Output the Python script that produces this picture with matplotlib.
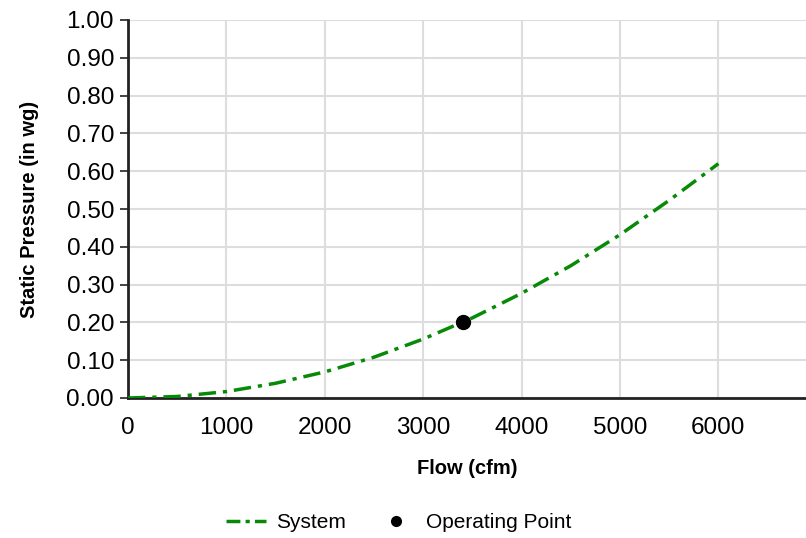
import matplotlib
matplotlib.use("Agg")
import matplotlib.pyplot as plt
from matplotlib.lines import Line2D

plt.rcParams['font.family'] = ['Liberation Sans', 'DejaVu Sans']

# system curve
flow = [0, 500, 1000, 1500, 2000, 2500, 3000, 3500, 4000, 4500, 5000, 5500, 6000]
pressure = [0.0, 0.004, 0.017, 0.039, 0.069, 0.108, 0.156, 0.212, 0.277, 0.350, 0.432, 0.523, 0.620]

op_flow = [3400]
op_pressure = [0.20]

xticks = [0, 1000, 2000, 3000, 4000, 5000, 6000]
yticks = [0.0, 0.1, 0.2, 0.3, 0.4, 0.5, 0.6, 0.7, 0.8, 0.9, 1.0]

fig = plt.figure(figsize=(8.06, 5.38), dpi=100)
ax = fig.add_axes([128/806, 1 - 398/538, 678/806, 378/538])

green = '#078a07'
dash = (0, (5, 2, 1.2, 2))
ax.plot(flow, pressure, color=green, lw=2.5, linestyle=dash, zorder=3)
ax.plot(op_flow, op_pressure, 'o', color='black', ms=10, zorder=4)

ax.set_xlim(0, 6890)
ax.set_ylim(0, 1.0)
ax.set_xticks(xticks)
ax.set_yticks(yticks)
ax.set_yticklabels(['%.2f' % v for v in yticks])
ax.tick_params(axis='both', labelsize=17.5, colors='#222222', labelcolor='black')
ax.tick_params(axis='y', length=6, width=1.2, pad=4)
ax.tick_params(axis='x', length=0, pad=14)

ax.grid(True, color='#dddddd', lw=1.5)
ax.set_axisbelow(True)
for s in ['top', 'right']:
    ax.spines[s].set_visible(False)
for s in ['left', 'bottom']:
    ax.spines[s].set_linewidth(2)
    ax.spines[s].set_color('#222222')

ax.set_xlabel('Flow (cfm)', fontsize=14.5, fontweight='bold', labelpad=14)
ax.set_ylabel('Static Pressure (in wg)', fontsize=14.5, fontweight='bold', labelpad=20)

handles = [
    Line2D([], [], color=green, lw=2.5, linestyle=(0, (4, 1.5, 1.2, 1.5))),
    Line2D([], [], marker='o', color='black', ls='none', ms=7),
]
fig.legend(handles, ['System', 'Operating Point'], loc='center', bbox_to_anchor=(0.495, 1 - 523/538),
           ncol=2, frameon=False, fontsize=15, handlelength=1.9, handletextpad=0.5, columnspacing=1.45)

fig.savefig('out.png', dpi=100)
